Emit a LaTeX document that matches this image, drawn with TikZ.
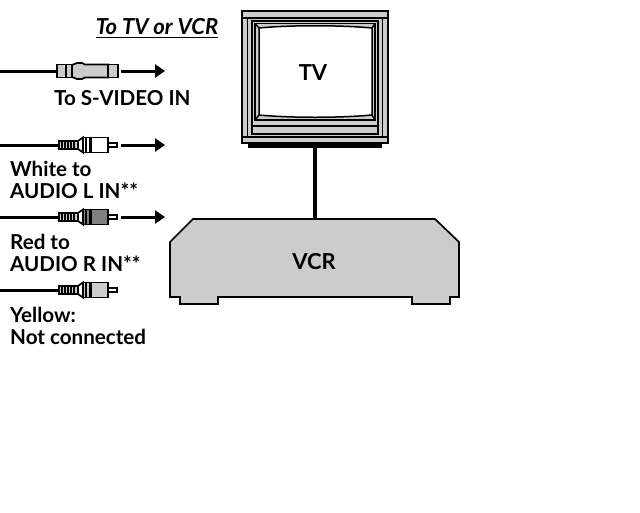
\documentclass[tikz,border=0pt]{standalone}
\usepackage{fontspec}
\setmainfont{Lato}
\usetikzlibrary{positioning, arrows.meta}
\definecolor{unitgray}{HTML}{CCCCCC}
\definecolor{redplug}{HTML}{808080}
\tikzset{
    caption/.style={font=\fontsize{20.6}{22}\selectfont\bfseries, inner sep=0pt, align=left, anchor=base west},
    unittext/.style={font=\fontsize{22}{24}\selectfont\bfseries, inner sep=0pt},
    wire/.style={line width=3pt},
    lead/.style={line width=3pt, -{Triangle[length=10pt, width=13pt]}},
    part/.style={draw, line width=1.7pt, inner sep=0pt, fill=unitgray},
    tvline/.style={line width=1.5pt}
}
% rca plug: name, height of the wire, fill of the body
\newcommand{\rcaplug}[3]{
    \node[part, minimum width=19pt, minimum height=8pt] (#1thread) at (68.5, #2) {};
    \foreach \xt in {62, 65, 68, 71, 74}
        \draw[line width=1.3pt] (\xt, #2-4) -- (\xt, #2+4);
    \node[part, fill=#3, minimum width=25pt, minimum height=15pt] (#1body) at (95.5, #2) {};
    \node[part, fill=white, minimum width=9pt, minimum height=4pt] (#1tip) at (112.5, #2) {};
    \draw[part, fill=white] (78, #2-4) -- (83, #2-7.5) -- (83, #2+7.5) -- (78, #2+4) -- cycle;
    \fill (85, #2-7.5) rectangle (87, #2+7.5);
    \fill (89, #2-7.5) rectangle (91.5, #2+7.5);
}

\begin{document}
\begin{tikzpicture}[x=1pt, y=-1pt]
    \useasboundingbox (0, 0) rectangle (640, 512);

    \node[font=\fontsize{22}{24}\selectfont\bfseries\itshape, inner sep=0pt, anchor=base] (title) at (157, 34) {To TV or VCR};
    \draw[line width=1.7pt] (96, 37.5) -- (218, 37.5);

    % tv
    \node[part, minimum width=146pt, minimum height=132pt] (tv) at (315, 77) {};
    \fill (248, 143) rectangle (382, 148);
    \draw[tvline] (242, 18) -- (388, 18);
    \draw[tvline] (242, 137) -- (388, 137);
    \draw[tvline] (247.5, 18) -- (247.5, 137);
    \draw[tvline] (382.5, 18) -- (382.5, 137);
    \draw[tvline] (252, 21) rectangle (378, 134);
    \draw[tvline] (255, 23.5) rectangle (375, 120);
    \draw[tvline] (252, 126) -- (378, 126);
    \draw[tvline] (255, 23.5) -- (259, 28);
    \draw[tvline] (375, 23.5) -- (372, 28);
    \draw[tvline] (255, 120) -- (259, 115);
    \draw[tvline] (375, 120) -- (372, 115);
    \draw[tvline, fill=white] (259, 28) .. controls (290, 25) and (340, 25) .. (372, 28)
        -- (372, 115) .. controls (340, 118) and (290, 118) .. (259, 115) -- cycle;
    \node[unittext] (tvtext) at (313, 73) {TV};

    % vcr
    \draw[part] (170, 242) -- (193, 219) -- (435, 219) -- (459, 242) -- (459, 297) -- (450, 297)
        -- (450, 304) -- (412, 304) -- (412, 297) -- (218, 297) -- (218, 304) -- (180, 304)
        -- (180, 297) -- (170, 297) -- cycle;
    \coordinate (vcrtop) at (315, 219);
    \node[unittext] (vcrtext) at (314, 262) {VCR};
    \draw[line width=4pt] (tv.south) -- (vcrtop);

    % s-video
    \coordinate (svstart) at (0, 71);
    \coordinate (svout) at (121, 71);
    \coordinate (svend) at (165, 71);
    \node[part, minimum width=9pt, minimum height=13pt] (svcap) at (61.5, 71) {};
    \node[part, minimum width=6pt, minimum height=13pt] (svneck) at (69, 71) {};
    \node[part, minimum width=10pt, minimum height=13pt] (svrear) at (113, 71) {};
    \draw[part] (72, 65) -- (77, 63) -- (82, 63) -- (85, 64.5) -- (108, 64.5) -- (108, 77.5) -- (85, 77.5)
        -- (82, 79) -- (77, 79) -- (72, 77) -- cycle;
    \draw[wire] (svstart) -- (svcap.west);
    \draw[lead] (svout) -- (svend);
    \node[caption] (svtext) at (54, 105) {To S-VIDEO IN};

    % white
    \coordinate (wstart) at (0, 145);
    \coordinate (wout) at (121, 145);
    \coordinate (wend) at (165, 145);
    \rcaplug{w}{145}{white}
    \draw[wire] (wstart) -- (wthread.west);
    \draw[lead] (wout) -- (wend);
    \node[caption] (wtext) at (10, 198) {White to\\AUDIO L IN**};

    % red
    \coordinate (rstart) at (0, 217);
    \coordinate (rout) at (121, 217);
    \coordinate (rend) at (165, 217);
    \rcaplug{r}{217}{redplug}
    \draw[wire] (rstart) -- (rthread.west);
    \draw[lead] (rout) -- (rend);
    \node[caption] (rtext) at (10, 271) {Red to\\AUDIO R IN**};

    % yellow
    \coordinate (ystart) at (0, 290);
    \rcaplug{y}{290}{unitgray}
    \draw[wire] (ystart) -- (ythread.west);
    \node[caption] (ytext) at (10, 344) {Yellow:\\Not connected};
\end{tikzpicture}
\end{document}
